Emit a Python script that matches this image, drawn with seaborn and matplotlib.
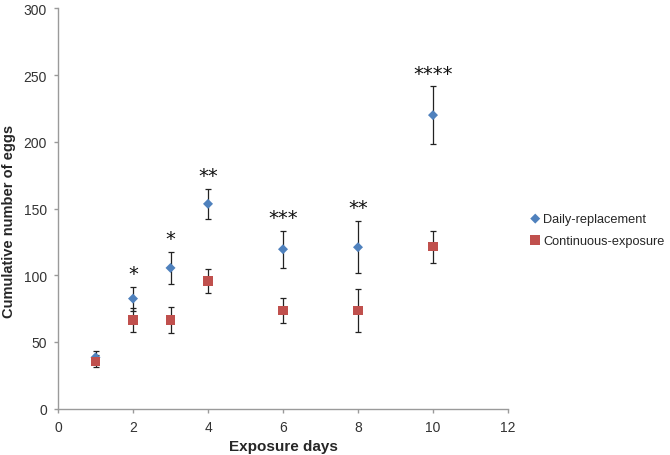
import matplotlib
matplotlib.use('Agg')
import matplotlib.pyplot as plt
import seaborn as sns
import pandas as pd

# values
days = [1, 2, 3, 4, 6, 8, 10]
daily_mean = [38.5, 82.5, 105.5, 153.5, 119.5, 121, 220]
daily_err = [4.5, 9, 12, 11, 14, 19.5, 21.5]
cont_mean = [35.5, 66.5, 66.5, 95.5, 73.5, 73.5, 121.5]
cont_err = [4.5, 9, 9.5, 9, 9.5, 16, 12]
stars = ['', '*', '*', '**', '***', '**', '****']

sns.set_style('white')
plt.rcParams['font.family'] = ['Liberation Sans', 'DejaVu Sans']

df = pd.DataFrame({'day': days, 'daily': daily_mean, 'daily_err': daily_err,
                   'cont': cont_mean, 'cont_err': cont_err, 'stars': stars})

fig = plt.figure(figsize=(6.7, 4.56), dpi=100)
ax = fig.add_axes([0.0866, 0.1015, 0.6716, 0.878])

# error bars behind markers
ax.errorbar(df.day, df.daily, yerr=df.daily_err, fmt='none', ecolor='#222222',
            elinewidth=0.9, capsize=2.5, capthick=0.9, zorder=1)
ax.errorbar(df.day, df.cont, yerr=df.cont_err, fmt='none', ecolor='#222222',
            elinewidth=0.9, capsize=2.5, capthick=0.9, zorder=1)

sns.scatterplot(data=df, x='day', y='daily', marker='D', s=26, color='#4F81BD',
                edgecolor='none', label='Daily-replacement', ax=ax, zorder=3)
sns.scatterplot(data=df, x='day', y='cont', marker='s', s=48, color='#C0504D',
                edgecolor='none', label='Continuous-exposure', ax=ax, zorder=3)

# significance stars above the daily-replacement error bars
for d, m, e, s in zip(df.day, df.daily, df.daily_err, df.stars):
    if s:
        ax.text(d, m + e + 10, s, ha='center', va='center', fontsize=14,
                family='DejaVu Sans', color='#111111')

ax.set_xlim(0, 12)
ax.set_ylim(0, 300)
ax.set_xticks(range(0, 13, 2))
ax.set_yticks(range(0, 301, 50))
ax.set_xlabel('Exposure days', fontsize=11, fontweight='bold', labelpad=4)
ax.set_ylabel('Cumulative number of eggs', fontsize=10.5, fontweight='bold')
ax.yaxis.set_label_coords(-0.093, 0.47)

for side in ['top', 'right']:
    ax.spines[side].set_visible(False)
for side in ['left', 'bottom']:
    ax.spines[side].set_color('#9a9a9a')
    ax.spines[side].set_linewidth(1.0)
ax.tick_params(axis='both', which='major', direction='out', length=3, width=1,
               color='#9a9a9a', labelsize=10, labelcolor='#333333', pad=5)
ax.tick_params(axis='x', bottom=True)
ax.tick_params(axis='y', left=True)

ax.legend(loc='center left', bbox_to_anchor=(1.035, 0.447), frameon=False,
          fontsize=9.2, handletextpad=0.1, handlelength=1.0, labelspacing=0.75,
          borderaxespad=0)

fig.savefig('out.png', dpi=100)
